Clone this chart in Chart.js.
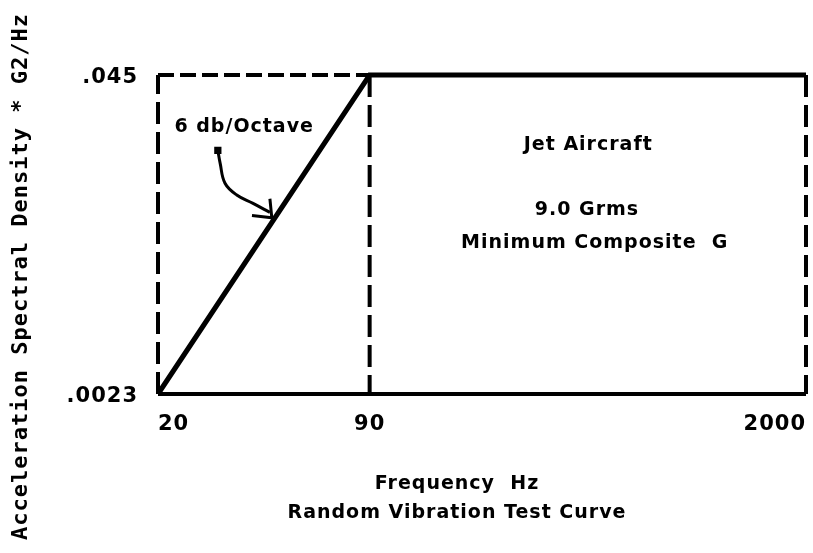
<!DOCTYPE html>
<html>
<head>
<meta charset="utf-8">
<script src="https://cdn.jsdelivr.net/npm/chart.js@4"></script>
<style>
    html, body { margin: 0; padding: 0; background: #fff; }
    #wrap { width: 813px; height: 553px; }
</style>
</head>
<body>
<div id="wrap"><canvas id="myChart"></canvas></div>
<script>
// tick values and labels
const freqTicks = [20, 90, 2000];
const freqLabels = ['20', '90', '2000'];
const psdTicks = [0.0023, 0.045];
const psdLabels = ['.0023', '.045'];

// test curve: 6 db/octave ramp, then flat
const curveFreq = [20, 90, 2000];
const curvePsd = [0.0023, 0.045, 0.045];

// arrow from the "6 db/Octave" note down to the ramp
const arrowFreq = [30.6, 31.1, 32.2, 35.0, 39.3, 44.3];
const arrowPsd = [0.0223, 0.0198, 0.0164, 0.0147, 0.0136, 0.0125];
const headFreq = [39.0, 44.9, 44.3];
const headPsd = [0.01215, 0.0119, 0.0142];

// notes inside the plot (fraction of the plot area)
const notes = [
    { text: '6 db/Octave', fx: 0.133, fy: 0.163 },
    { text: 'Jet Aircraft', fx: 0.664, fy: 0.219 },
    { text: '9.0 Grms', fx: 0.662, fy: 0.423 },
    { text: 'Minimum Composite  G', fx: 0.674, fy: 0.527 }
];

const xTitle = ['Frequency  Hz', 'Random Vibration Test Curve'];
const yTitle = 'Acceleration Spectral Density * G2/Hz';

const pts = (xs, ys) => xs.map((x, i) => ({ x: x, y: ys[i] }));

const fMin = freqTicks[0], fMid = freqTicks[1], fMax = freqTicks[freqTicks.length - 1];
const pMin = psdTicks[0], pMax = psdTicks[psdTicks.length - 1];

const solid = (data, w) => ({
    data: data, borderColor: '#000', borderWidth: w, pointRadius: 0,
    showLine: true, fill: false, clip: false
});
const dashed = (data, dash) => Object.assign(solid(data, 4), { borderDash: dash, borderCapStyle: 'butt' });

// notes and axis titles, written as plain canvas text
const textLayer = {
    id: 'textLayer',
    beforeDraw(chart) {
        chart.ctx.letterSpacing = '1px';
    },
    afterDatasetsDraw(chart) {
        const { ctx, chartArea: a, height } = chart;
        ctx.save();
        ctx.fillStyle = '#000';
        ctx.textAlign = 'center';
        ctx.textBaseline = 'middle';

        ctx.font = 'bold 19px "DejaVu Sans"';
        notes.forEach(n => {
            ctx.fillText(n.text, a.left + n.fx * (a.right - a.left), a.top + n.fy * (a.bottom - a.top));
        });

        ctx.fillText(xTitle[0], 457, 484);
        ctx.fillText(xTitle[1], 457, 513);

        ctx.font = 'bold 22px "DejaVu Sans Mono"';
        ctx.translate(21, height / 2);
        ctx.rotate(-Math.PI / 2);
        ctx.fillText(yTitle, 0, 0);
        ctx.restore();
    }
};

const ctx = document.getElementById('myChart').getContext('2d');

const myChart = new Chart(ctx, {
    type: 'scatter',
    data: {
        datasets: [
            solid(pts(curveFreq, curvePsd), 5),
            solid(pts([fMin, fMax], [pMin, pMin]), 4),
            dashed(pts([fMin, fMid], [pMax, pMax]), [16, 6]),
            dashed(pts([fMin, fMin], [pMin, pMax]), [22, 8]),
            dashed(pts([fMid, fMid], [pMax, pMin]), [22, 8]),
            dashed(pts([fMax, fMax], [pMax, pMin]), [22, 8]),
            Object.assign(solid(pts(arrowFreq, arrowPsd), 3), {
                tension: 0.4,
                pointRadius: c => c.dataIndex === 0 ? 3 : 0,
                pointStyle: 'rect',
                pointBackgroundColor: '#000',
                pointBorderColor: '#000'
            }),
            solid(pts(headFreq, headPsd), 3)
        ]
    },
    options: {
        responsive: true,
        maintainAspectRatio: false,
        animation: false,
        layout: { padding: { left: 0, right: 7, top: 75, bottom: 0 } },
        plugins: {
            legend: { display: false },
            tooltip: { enabled: false }
        },
        scales: {
            x: {
                type: 'logarithmic',
                min: fMin,
                max: fMax,
                grid: { display: false },
                border: { display: false },
                afterBuildTicks: s => { s.ticks = freqTicks.map(v => ({ value: v })); },
                afterFit: s => { s.height = 159; s.paddingLeft = 0; s.paddingRight = 0; },
                ticks: {
                    autoSkip: false,
                    maxRotation: 0,
                    align: 'inner',
                    padding: 10,
                    color: '#000',
                    font: { family: 'DejaVu Sans', size: 21, weight: 'bold' },
                    callback: v => freqLabels[freqTicks.indexOf(v)]
                }
            },
            y: {
                type: 'logarithmic',
                min: pMin,
                max: pMax,
                grid: { display: false },
                border: { display: false },
                afterBuildTicks: s => { s.ticks = psdTicks.map(v => ({ value: v })); },
                afterFit: s => { s.width = 158; },
                ticks: {
                    autoSkip: false,
                    padding: 12,
                    labelOffset: 3,
                    color: '#000',
                    font: { family: 'DejaVu Sans', size: 21, weight: 'bold' },
                    callback: v => psdLabels[psdTicks.indexOf(v)]
                }
            }
        }
    },
    plugins: [textLayer]
});
</script>
</body>
</html>
